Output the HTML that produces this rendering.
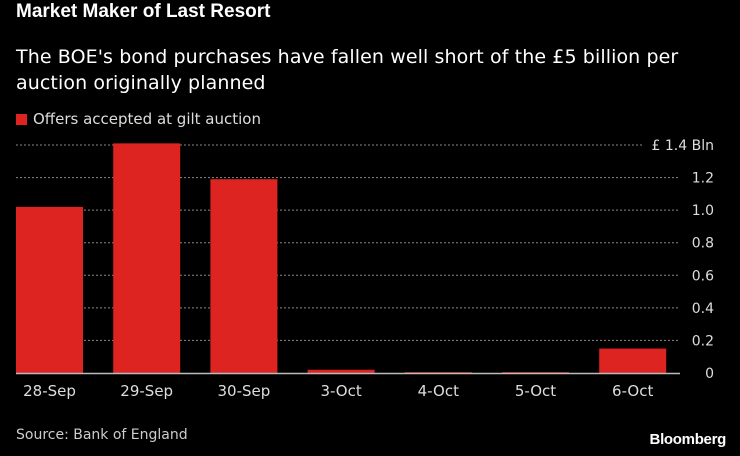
<!DOCTYPE html>
<html><head><meta charset="utf-8"><style>
html,body{margin:0;padding:0;background:#000;}
body{width:740px;height:456px;overflow:hidden;font-family:"DejaVu Sans",sans-serif;color:#fff;position:relative;}
.t{position:absolute;white-space:nowrap;}
</style></head><body>
<div class="t" style="left:16px;top:1px;font-size:19px;font-weight:bold;font-family:'Liberation Sans',sans-serif;">Market Maker of Last Resort</div>
<div class="t" style="left:16px;top:44px;font-size:19px;letter-spacing:0.1px;line-height:26px;white-space:normal;width:670px;">The BOE's bond purchases have fallen well short of the £5 billion per auction originally planned</div>
<div class="t" style="left:16px;top:110px;font-size:15px;color:#ddd;"><span style="display:inline-block;width:11px;height:11px;background:#dd2421;margin-right:6px;vertical-align:-1px;"></span>Offers accepted at gilt auction</div>
<svg id="chart" width="740" height="456" style="position:absolute;left:0;top:0;"></svg>
<div class="t" style="left:16px;top:427px;font-size:14px;color:#ccc;">Source: Bank of England</div>
<div class="t" style="right:14px;top:431px;font-size:15px;font-weight:bold;letter-spacing:-0.3px;font-family:'Liberation Sans',sans-serif;">Bloomberg</div>
<script>
const categories=["28-Sep","29-Sep","30-Sep","3-Oct","4-Oct","5-Oct","6-Oct"];
const values=[1.02,1.41,1.19,0.02,0.005,0.005,0.15];
const ticks=[0,0.2,0.4,0.6,0.8,1.0,1.2,1.4];
const tickLabels=["0","0.2","0.4","0.6","0.8","1.0","1.2","£ 1.4  Bln"];
const NS="http://www.w3.org/2000/svg";
const svg=document.getElementById("chart");
const y0=373,yTop=145,vMax=1.4;
function y(v){return y0-(v/vMax)*(y0-yTop);}
function xBand(i){return 16+i*97.2;}
const bw=67;
function mk(t,a){const e=document.createElementNS(NS,t);for(const k in a)e.setAttribute(k,a[k]);svg.appendChild(e);return e;}
ticks.forEach((t,i)=>{
  const yy=y(t);
  if(i>0){
    const ln=mk("line",{x1:16,x2:i===ticks.length-1?642:679,y1:yy,y2:yy,stroke:"#888","stroke-width":1,"stroke-dasharray":"2,2"});
    
    
  }
  const tx=mk("text",{x:714,y:yy+5,"text-anchor":"end",fill:"#ddd","font-size":14,"font-family":"DejaVu Sans, sans-serif","xml:space":"preserve"});
  tx.textContent=tickLabels[i];
  
  
});
categories.forEach((c,i)=>{
  const x=xBand(i);
  const r=mk("rect",{x:x,y:y(values[i]),width:bw,height:y0-y(values[i]),fill:"#dd2421"});
  
  
  const tx=mk("text",{x:x+bw/2,y:396,"text-anchor":"middle",fill:"#ddd","font-size":15,"font-family":"DejaVu Sans, sans-serif"});
  tx.textContent=c;
  
  
});
const base=mk("line",{x1:16,x2:680,y1:y0+0.5,y2:y0+0.5,stroke:"#bbb","stroke-width":1.5});


</script>
</body></html>
